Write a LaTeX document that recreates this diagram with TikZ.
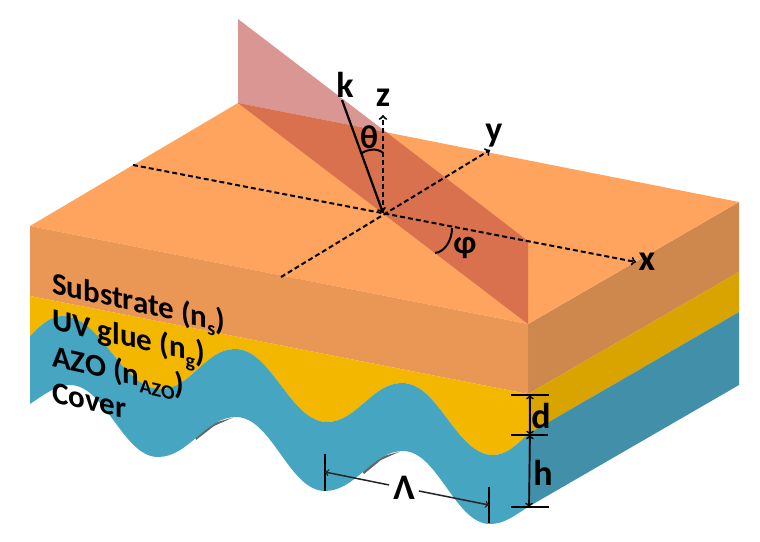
\documentclass[tikz,border=0pt]{standalone}
\usepackage{fontspec}
\setmainfont{Carlito}
\usetikzlibrary{arrows}
\definecolor{topface}{HTML}{FFA45E}
\definecolor{substrate}{HTML}{EA9655}
\definecolor{substrateside}{HTML}{CE874D}
\definecolor{glue}{HTML}{F3B700}
\definecolor{glueside}{HTML}{D9A300}
\definecolor{azo}{HTML}{46A6C1}
\definecolor{azoside}{HTML}{418FA8}
\definecolor{planeup}{HTML}{D99692}
\definecolor{planedown}{HTML}{D9714E}
\newcommand{\layersub}[1]{\raisebox{-0.22em}{\fontsize{20}{20}\selectfont #1}}
\tikzstyle{layerlabel} = [anchor=west, yslant=-0.225, inner sep=0pt, font=\bfseries\fontsize{31}{34}\selectfont]
\tikzstyle{axislabel} = [inner sep=0pt, font=\bfseries\fontsize{36}{38}\selectfont]
\tikzstyle{angletext} = [inner sep=0pt, font=\bfseries\fontsize{33}{36}\selectfont]
\tikzstyle{axis} = [line width=2pt,dash pattern=on 5pt off 3pt,->,>=to]
\tikzstyle{tick} = [line width=2pt]
\tikzstyle{dimension} = [line width=1.7pt,<->,>=to]
\tikzstyle{dimensiongap} = [line width=1.5pt,->,>=to,draw=black!85]
\tikzstyle{anglearc} = [line width=2pt]

\begin{document}
\begin{tikzpicture}[x=1pt,y=-1pt]
\useasboundingbox (0,0) rectangle (760,541);

\fill [substrateside] (528,324) -- (739,202) -- (739,272) -- (528,394) -- cycle;
\fill [glueside] (528,394) -- (739,272) -- (739,312) -- (528,434) -- cycle;
\fill [azoside] (528,434) -- (739,312) -- (739,385) -- (528,507) -- cycle;
\fill [topface] (30,226) -- (238,103) -- (739,202) -- (528,324) -- cycle;
\fill [substrate] (30,226) -- (528,324) -- (528,394) -- (30,296) -- cycle;

\fill [glue] (30,336)
  .. controls (40,326) and (50,316) .. (62,316)
  .. controls (102,316) and (121,389) .. (161,389)
  .. controls (191,389) and (205,349) .. (235,349)
  .. controls (272,349) and (290,422) .. (327,422)
  .. controls (357,422) and (372,383) .. (402,383)
  .. controls (439,383) and (456,455) .. (493,455)
  .. controls (508,455) and (518,443) .. (528,434)
  -- (528,394) -- (30,296) -- cycle;

\fill [black!60] (195,437) -- (214,423) -- (233,417.5) -- (214,426) -- (196,440) -- cycle;
\fill [black!60] (362,471) -- (380,457) -- (400,451.5) -- (381,460) -- (364,474) -- cycle;

\fill [azo] (30,336)
  .. controls (40,326) and (50,316) .. (62,316)
  .. controls (102,316) and (121,389) .. (161,389)
  .. controls (191,389) and (205,349) .. (235,349)
  .. controls (272,349) and (290,422) .. (327,422)
  .. controls (357,422) and (372,383) .. (402,383)
  .. controls (439,383) and (456,455) .. (493,455)
  .. controls (508,455) and (518,443) .. (528,434)
  -- (528,507)
  .. controls (514,516) and (504,524) .. (490,524)
  .. controls (455,524) and (438,451) .. (403,451)
  .. controls (372,451) and (356,491) .. (325,491)
  .. controls (289,491) and (272,417) .. (236,417)
  .. controls (205,417) and (189,457) .. (158,457)
  .. controls (123,457) and (105,385) .. (70,385)
  .. controls (56,385) and (42,396) .. (30,404) -- cycle;

\fill [planeup] (238,19) -- (386,132) -- (238,103) -- cycle;
\fill [planedown] (238,103) -- (386,132) -- (528,241) -- (528,324) -- cycle;

\coordinate (origin) at (383,213);
\coordinate (xstart) at (133,165);
\coordinate (xend) at (636,262);
\coordinate (ystart) at (281,277);
\coordinate (yend) at (490,150);
\coordinate (zend) at (383,115);
\coordinate (kstart) at (342,100);

\draw [axis] (xstart) -- (xend);
\draw [axis] (ystart) -- (yend);
\draw [axis] (origin) -- (zend);
\draw [line width=2.2pt,->,>=to] (kstart) -- (origin);

\coordinate (thetaleft) at (362,153);
\coordinate (thetaright) at (383,153);
\coordinate (phileft) at (435,253);
\coordinate (phiright) at (452,228);
\draw [anglearc] (thetaleft) .. controls (368,149) and (378,148) .. (thetaright);
\draw [anglearc] (phileft) .. controls (445,252) and (452,240) .. (phiright);

\node (k) [axislabel] at (345,85) {k};
\node (z) [axislabel] at (383,98) {z};
\node (y) [axislabel] at (494,136) {y};
\node (x) [axislabel] at (647,262) {x};
\node (theta) [angletext] at (369,137) {θ};
\node (phi) [angletext] at (465,248) {φ};

\node (substratelabel) [layerlabel] at (52,285) {Substrate (n\layersub{s})};
\node (gluelabel) [layerlabel] at (52,323) {UV glue (n\layersub{g})};
\node (azolabel) [layerlabel] at (52,358) {AZO (n\layersub{AZO})};
\node (coverlabel) [layerlabel] at (52,392) {Cover};

\coordinate (dtopl) at (511,395);
\coordinate (dtopr) at (549,395);
\coordinate (dmidl) at (511,435);
\coordinate (dmidr) at (548,435);
\coordinate (hbotl) at (511,507);
\coordinate (hbotr) at (549,507);
\coordinate (dtop) at (530,395);
\coordinate (dmid) at (530,435);
\coordinate (hbot) at (529,507);

\draw [tick] (dtopl) -- (dtopr);
\draw [tick] (dmidl) -- (dmidr);
\draw [tick] (hbotl) -- (hbotr);
\draw [dimension] (dtop) -- (dmid);
\draw [dimension] (dmid) -- (hbot);

\node (d) [axislabel] at (541,416) {d};
\node (h) [axislabel] at (543,473) {h};

\coordinate (lamltop) at (325,454);
\coordinate (lamlbot) at (325,491);
\coordinate (lamrtop) at (489,487);
\coordinate (lamrbot) at (489,523);
\coordinate (laml) at (325,472);
\coordinate (lamr) at (489,505);

\draw [line width=1.5pt] (lamltop) -- (lamlbot);
\draw [line width=1.5pt] (lamrtop) -- (lamrbot);

\node (lambda) [axislabel, inner sep=4pt] at (404,488) {Λ};
\draw [dimensiongap] (lambda) -- (laml);
\draw [dimensiongap] (lambda) -- (lamr);

\end{tikzpicture}
\end{document}
